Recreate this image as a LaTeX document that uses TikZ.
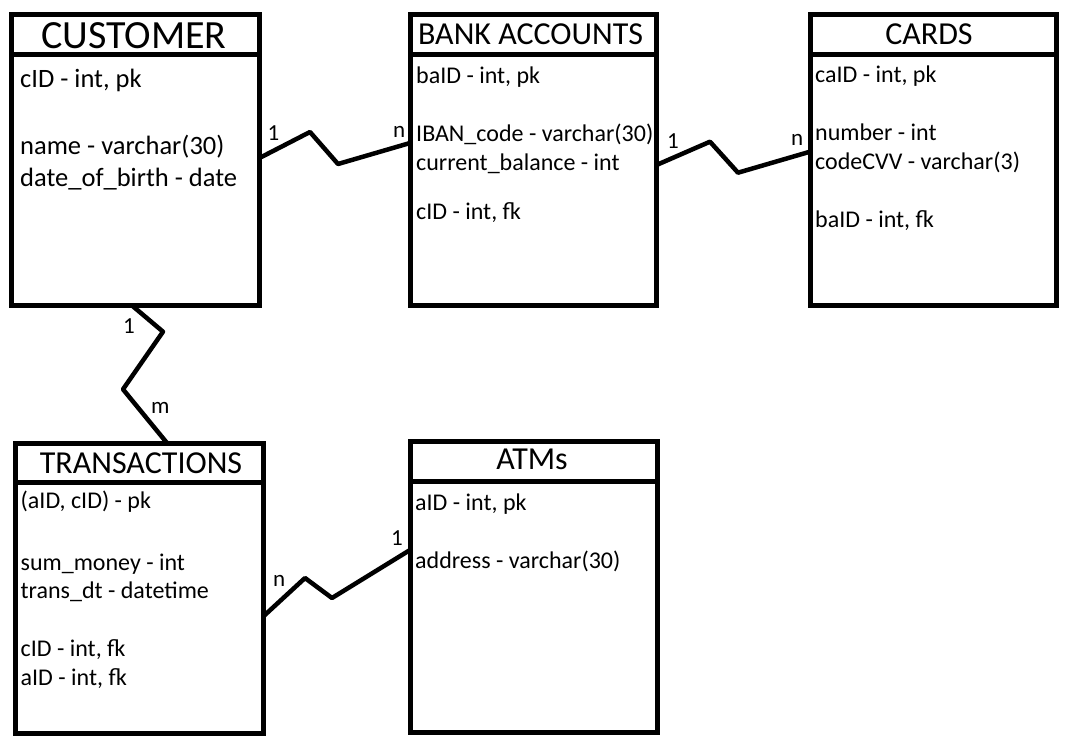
\documentclass[tikz,border=0pt]{standalone}
\usepackage{fontspec}
\setmainfont{Carlito}
\begin{document}
\begin{tikzpicture}[x=1pt,y=-1pt,
  tbl/.style={draw, line width=5pt, inner sep=0pt, outer sep=0pt},
  hdr/.style={anchor=base, inner sep=0pt, font=\fontsize{32}{36}\selectfont},
  fld/.style={anchor=base west, inner sep=0pt, font=\fontsize{24}{28}\selectfont},
  bigfld/.style={anchor=base west, inner sep=0pt, font=\fontsize{26.5}{30}\selectfont},
  card/.style={anchor=base west, inner sep=0pt, font=\fontsize{23}{26}\selectfont},
  rel/.style={line width=4.5pt, line join=round}]
\useasboundingbox (0,0) rectangle (1071,749);
% tables
\node[tbl, minimum width=248pt, minimum height=291pt] (cust) at (135.5,160) {};
\node[tbl, minimum width=246.5pt, minimum height=290.5pt] (bank) at (533.25,160.25) {};
\node[tbl, minimum width=246.5pt, minimum height=290.5pt] (cards) at (933.25,160.25) {};
\node[tbl, minimum width=247.3pt, minimum height=290.5pt] (trans) at (139.35,588.25) {};
\node[tbl, minimum width=247pt, minimum height=291pt] (atms) at (533.5,587) {};
% header separators
\draw[line width=5pt] (cust.west |- 0,54.5) -- (cust.east |- 0,54.5);
\draw[line width=5pt] (bank.west |- 0,55) -- (bank.east |- 0,55);
\draw[line width=5pt] (cards.west |- 0,55) -- (cards.east |- 0,55);
\draw[line width=5pt] (trans.west |- 0,482.7) -- (trans.east |- 0,482.7);
\draw[line width=5pt] (atms.west |- 0,481.7) -- (atms.east |- 0,481.7);
% headers
\node[hdr, font=\fontsize{40}{43}\selectfont] (custh) at (134,48.3) {CUSTOMER};
\node[hdr] (bankh) at (530.5,45) {BANK ACCOUNTS};
\node[hdr] (cardsh) at (929,45) {CARDS};
\node[hdr] (transh) at (141,473.3) {TRANSACTIONS};
\node[hdr] (atmsh) at (532,469.3) {ATMs};
% customer fields
\node[bigfld] (c1) at (20,87.3) {cID - int, pk};
\node[bigfld] (c2) at (20,154) {name - varchar(30)};
\node[bigfld] (c3) at (20,186.7) {date\_of\_birth - date};
% bank fields
\node[fld] (b1) at (416,83.3) {baID - int, pk};
\node[fld] (b2) at (416,141.7) {IBAN\_code - varchar(30)};
\node[fld] (b3) at (416,170.7) {current\_balance - int};
\node[fld] (b4) at (416,219) {cID - int, fk};
% cards fields
\node[fld] (k1) at (815,82.7) {caID - int, pk};
\node[fld] (k2) at (815,140.7) {number - int};
\node[fld] (k3) at (815,170) {codeCVV - varchar(3)};
\node[fld] (k4) at (815,227.7) {baID - int, fk};
% transactions fields
\node[fld] (t1) at (20.5,508.3) {(aID, cID) - pk};
\node[fld] (t2) at (20.5,570) {sum\_money - int};
\node[fld] (t3) at (20.5,598.3) {trans\_dt - datetime};
\node[fld] (t4) at (20.5,656.7) {cID - int, fk};
\node[fld] (t5) at (20.5,685) {aID - int, fk};
% atms fields
\node[fld] (a1) at (415,510) {aID - int, pk};
\node[fld] (a2) at (415,568.3) {address - varchar(30)};
% relationships
\draw[rel] (cust.east |- 0,158) -- (310,132) -- (338,164) -- (bank.west |- 0,143);
\draw[rel] (bank.east |- 0,165) -- (710,141.7) -- (738,172.7) -- (cards.west |- 0,151.7);
\draw[rel] (cust.south -| 132,0) -- (163,331.7) -- (123,389.3) -- (trans.north -| 167,0);
\draw[rel] (trans.east |- 0,616.7) -- (305,578) -- (332,598) -- (atms.west |- 0,550);
% cardinalities
\node[card] (l1) at (267.5,140.7) {1};
\node[card] (l2) at (393,137.7) {n};
\node[card] (l3) at (667,149) {1};
\node[card] (l4) at (791,146) {n};
\node[card] (l5) at (123,333) {1};
\node[card] (l6) at (151,413) {m};
\node[card] (l7) at (273,586) {n};
\node[card] (l8) at (391,545) {1};
\end{tikzpicture}
\end{document}
